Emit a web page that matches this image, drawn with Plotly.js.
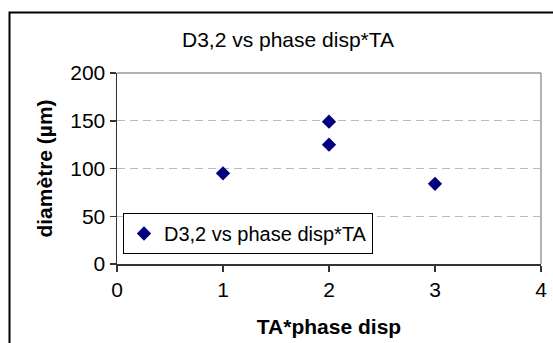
<!DOCTYPE html>
<html>
<head>
<meta charset="utf-8">
<script src="https://cdn.plot.ly/plotly-3.0.1.min.js"></script>
<style>html,body{margin:0;padding:0;background:#fff;}#chart{width:553px;height:343px;}</style>
</head>
<body>
<div id="chart"></div>
<script>
var xValues = [1, 2, 2, 3];
var yValues = [95, 149, 125, 84];
var seriesName = "D3,2 vs phase disp*TA";
var chartTitle = "D3,2 vs phase disp*TA";
var xTitle = "TA*phase disp";
var yTitle = "diamètre (µm)";
var xTicks = [0, 1, 2, 3, 4];
var yTicks = [0, 50, 100, 150, 200];

var W = 553, H = 343;
var L = 117, R = 12, T = 73, B = 79;
var pw = W - L - R, ph = H - T - B;
function px2x(p){ return (p - L) / pw; }
function py2y(p){ return (H - B - p) / ph; }

var font = "Arial, 'Liberation Sans', sans-serif";
var FS = 21;

var trace = {
  x: xValues, y: yValues, type: 'scatter', mode: 'markers', name: seriesName,
  marker: {symbol: 'diamond', size: 11, color: '#000080'}
};

var layout = {
  width: W, height: H,
  margin: {l: L, r: R, t: T, b: B, pad: 0},
  paper_bgcolor: '#fff', plot_bgcolor: '#fff',
  font: {family: font, size: FS, color: '#000'},
  title: {text: chartTitle, font: {family: font, size: FS, color: '#000'},
          xref: 'container', yref: 'container', x: 288 / W, xanchor: 'center', y: 1 - 40 / H, yanchor: 'middle'},
  showlegend: true,
  legend: {x: px2x(123), y: py2y(213), xanchor: 'left', yanchor: 'top',
           bordercolor: '#000', borderwidth: 1, bgcolor: '#fff', tracegroupgap: 0,
           itemwidth: 30,
           font: {family: font, size: 20, color: '#000'}},
  xaxis: {range: [0, 4], tickvals: xTicks, ticktext: xTicks.map(String),
          showgrid: false, zeroline: false, showline: true, linecolor: '#333', linewidth: 1.5,
          ticks: 'outside', ticklen: 6, tickcolor: '#333', tickwidth: 1.5,
          tickfont: {family: font, size: FS, color: '#000'},
          title: {text: '<b>' + xTitle + '</b>', font: {family: font, size: FS, color: '#000'}, standoff: 19},
          fixedrange: true},
  yaxis: {range: [0, 200], tickvals: yTicks, ticktext: yTicks.map(String),
          showgrid: true, gridcolor: '#bbbbbb', griddash: '8px,5px', gridwidth: 1,
          zeroline: false, showline: true, linecolor: '#333', linewidth: 1.5,
          ticks: 'outside', ticklen: 6, tickcolor: '#333', tickwidth: 1.5,
          tickfont: {family: font, size: FS, color: '#000'},
          title: {text: '<b>' + yTitle + '</b>', font: {family: font, size: FS, color: '#000'}, standoff: 12},
          fixedrange: true},
  shapes: [
    {type: 'line', xref: 'paper', yref: 'paper', x0: 0, x1: 1, y0: 1, y1: 1, line: {color: '#999', width: 1.5}, layer: 'below'},
    {type: 'line', xref: 'paper', yref: 'paper', x0: 1, x1: 1, y0: 0, y1: 1, line: {color: '#999', width: 1.5}, layer: 'below'},
    {type: 'rect', xref: 'paper', yref: 'paper', x0: px2x(9.5), x1: px2x(W + 20), y0: py2y(H + 20), y1: py2y(12.5),
     line: {color: '#000', width: 2}, fillcolor: 'rgba(0,0,0,0)', layer: 'below'}
  ]
};

Plotly.newPlot('chart', [trace], layout, {displayModeBar: false, staticPlot: true});
</script>
</body>
</html>
